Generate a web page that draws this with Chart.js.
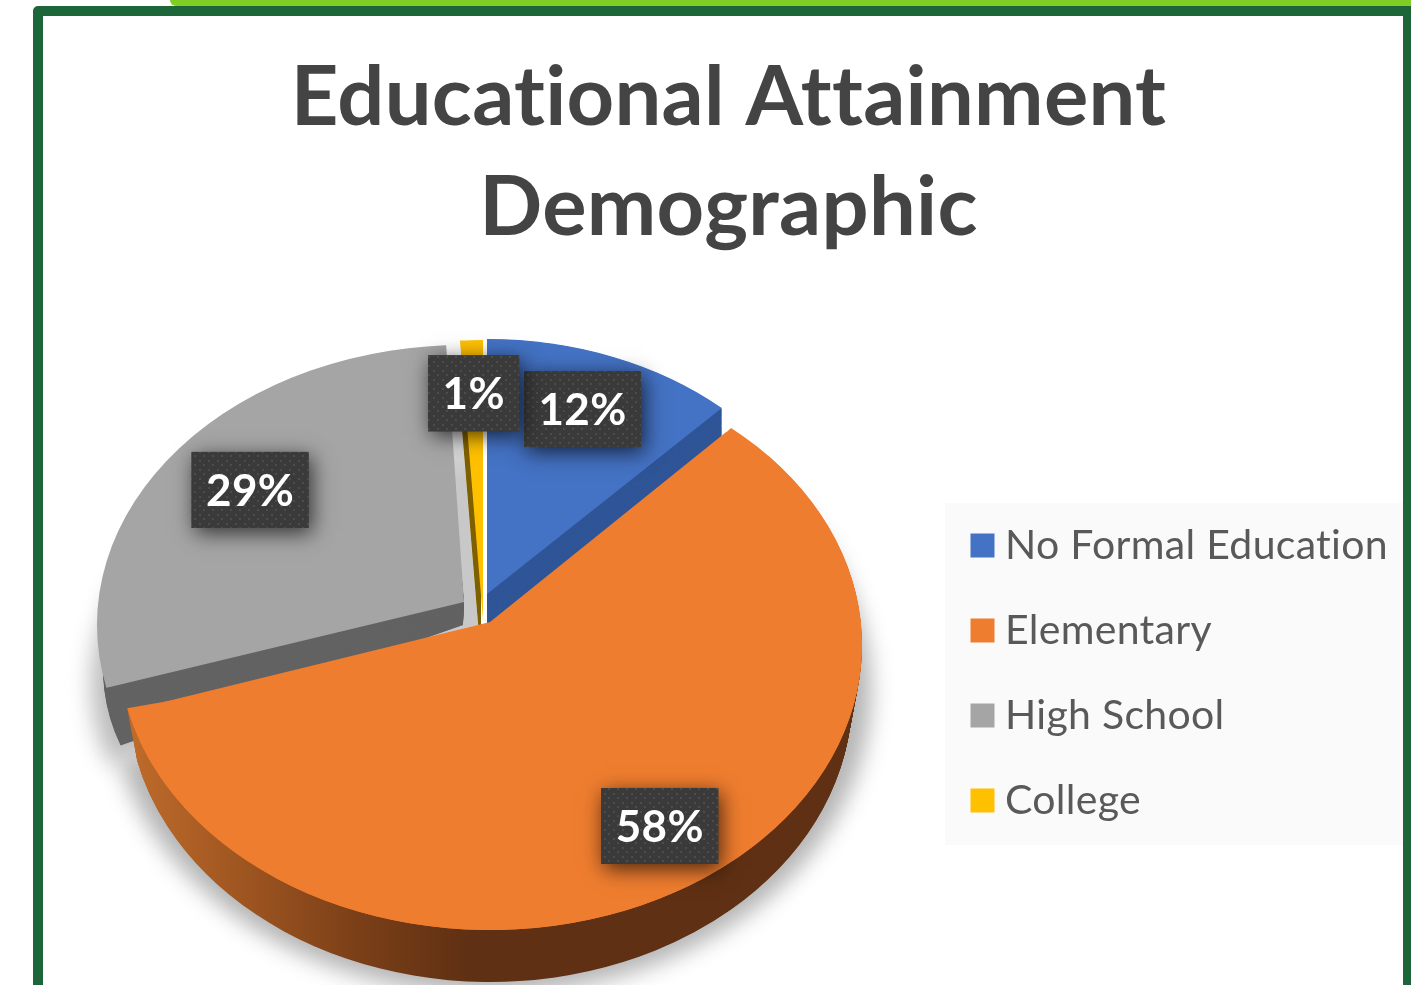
<!DOCTYPE html>
<html>
<head>
<meta charset="utf-8">
<style>
  html, body { margin: 0; background: #fff; overflow: hidden; }
  #stage { position: relative; width: 1411px; height: 985px; overflow: hidden; }
  #accent { position: absolute; left: 170px; top: -8px; width: 1300px; height: 14px; background: #7fcd25; border-radius: 6px; }
  #frame { position: absolute; left: 33px; top: 6px; width: 1400px; height: 1040px; box-sizing: border-box;
           border: 10.5px solid #1c6639; border-radius: 5px; background: #fff; }
  #frame-r { position: absolute; left: 1403px; top: 6px; width: 8px; height: 979px; background: #1c6639; }
  canvas { position: absolute; left: 0; top: 0; }
</style>
</head>
<body>
<div id="stage">
  <div id="accent"></div>
  <div id="frame"></div>
  <div id="frame-r"></div>
  <canvas id="chart" width="1411" height="985"></canvas>
</div>
<script src="https://cdn.jsdelivr.net/npm/chart.js@4/dist/chart.umd.js"></script>
<script>
const titleLines = ['Educational Attainment', 'Demographic'];
const categories = ['No Formal Education', 'Elementary', 'High School', 'College'];
const shares = [12, 58, 29, 1];
const sliceColors = ['#4472c4', '#ef7d2f', '#a5a5a5', '#ffc000'];
const wallColors = ['#2f5597', '#5f3013', '#636363', '#7f6000'];

// Tilted-pie projection: where each slice's top face and bottom face land.
const deg = Math.PI / 180;
const blueTop = { cx: 487, cy: 594, rx: 343, ry: 255 };
const blueBase = { cx: 487, cy: 630, rx: 343, ry: 255 };
const orangeTop = { cx: 490, cy: 645, rx: 372, ry: 285, rot: 5.2 * deg };
const orangeTopLead = { cx: 490, cy: 645, rx: 372, ry: 285, rot: -2.8 * deg };
const orangeApex = { cx: 490, cy: 622, rx: 345, ry: 260.7 };
const orangeBase = { cx: 490, cy: 697, rx: 362, ry: 285, rot: 5.2 * deg };
const orangeGlow = { cx: 490, cy: 690, rx: 381, ry: 304, rot: 5.2 * deg };
const greyLabelFace = { cx: 464, cy: 602, rx: 367, ry: 257 };
const greyTop = { cx: 464, cy: 625, rx: 367, ry: 280, rot: 5 * deg };
const greyWallStart = { cx: 464, cy: 602, rx: 358, ry: 245 };
const greyBase = { cx: 463, cy: 625, rx: 360, ry: 257, shear: -0.12 };
const greyGlow = { cx: 463, cy: 640, rx: 372, ry: 262, shear: -0.12 };
const greyEdge = { cx: 478, cy: 625, rx: 367, ry: 280 };
const collegeTop = { cx: 483, cy: 620, rx: 367, ry: 280 };
const collegeEdge = { cx: 481, cy: 660, rx: 367, ry: 280 };

// Outline that trims the grey top face along its two straight edges.
const greyTrim = [[464, 602], [443, 300], [60, 300], [60, 699]];

// Data label placement: polar position inside each slice's top face.
const labelFaces = [blueTop, orangeTop, greyLabelFace, collegeTop];
const labelRadius = [0.777, 0.782, 0.728, 0.81];
const labelTurn = [-0.6, -3.3, 2.6, 0];
const labelBoxWidths = [117, 117, 117, 91];

function place(ctx, arc, f) {
  const k = arc.outerRadius;
  ctx.translate(f.cx, f.cy);
  if (f.shear) ctx.transform(1, f.shear, 0, 1, 0, 0);
  ctx.scale(f.rx / k, f.ry / k);
  if (f.rot) ctx.rotate(f.rot);
  ctx.translate(-arc.x, -arc.y);
}

function paint(ctx, arc, face, fill) {
  ctx.save();
  place(ctx, arc, face);
  const keep = arc.options;
  const color = typeof fill === 'function' ? fill(ctx) : fill;
  arc.options = Object.create(keep, { backgroundColor: { value: color } });
  arc.draw(ctx);
  arc.options = keep;
  ctx.restore();
}

function mix(a, b, t) {
  const out = {};
  for (const key of ['cx', 'cy', 'rx', 'ry', 'rot', 'shear']) {
    out[key] = (a[key] || 0) + ((b[key] || 0) - (a[key] || 0)) * t;
  }
  return out;
}

function extrude(ctx, arc, from, to, fill) {
  const steps = 70;
  for (let i = steps; i >= 1; i--) paint(ctx, arc, mix(from, to, i / steps), fill);
}

// Horizontal shading of the rim, defined in page space and mapped back
// through whatever transform the slice is being drawn with.
function rimShade(ctx) {
  const inv = ctx.getTransform().inverse();
  const a = inv.transformPoint({ x: 135, y: 800 });
  const b = inv.transformPoint({ x: 860, y: 800 });
  const g = ctx.createLinearGradient(a.x, a.y, b.x, b.y);
  g.addColorStop(0, '#bd6a2a');
  g.addColorStop(0.16, '#9c5420');
  g.addColorStop(0.3, '#7c4018');
  g.addColorStop(0.46, '#5f3013');
  g.addColorStop(1, '#5f3013');
  return g;
}

function edgeShade(ctx) {
  const inv = ctx.getTransform().inverse();
  const a = inv.transformPoint({ x: 460, y: 350 });
  const b = inv.transformPoint({ x: 460, y: 480 });
  const g = ctx.createLinearGradient(a.x, a.y, b.x, b.y);
  g.addColorStop(0, '#ffffff');
  g.addColorStop(1, '#c8c8c8');
  return g;
}

function dotTile(ctx) {
  const tile = document.createElement('canvas');
  tile.width = 9; tile.height = 9;
  const t = tile.getContext('2d');
  t.fillStyle = '#3a3a3a';
  t.fillRect(0, 0, 9, 9);
  t.fillStyle = '#4c4c4c';
  t.fillRect(1, 1, 2, 2);
  t.fillRect(5, 5, 2, 2);
  return ctx.createPattern(tile, 'repeat');
}

function drawLabels(ctx, arcs) {
  const pattern = dotTile(ctx);
  arcs.forEach((arc, i) => {
    const f = labelFaces[i];
    const mid = (arc.startAngle + arc.endAngle) / 2 + labelTurn[i] * deg;
    const x = f.cx + Math.cos(mid) * labelRadius[i] * f.rx;
    const y = f.cy + Math.sin(mid) * labelRadius[i] * f.ry;
    const w = labelBoxWidths[i], h = 76;
    ctx.save();
    ctx.shadowColor = 'rgba(0,0,0,0.7)';
    ctx.shadowBlur = 20;
    ctx.shadowOffsetX = 3;
    ctx.shadowOffsetY = 5;
    ctx.fillStyle = '#3a3a3a';
    ctx.fillRect(x - w / 2, y - h / 2, w, h);
    ctx.restore();
    ctx.save();
    ctx.fillStyle = pattern;
    ctx.fillRect(x - w / 2, y - h / 2, w, h);
    ctx.fillStyle = '#ffffff';
    ctx.font = 'bold 44px Lato';
    ctx.textAlign = 'center';
    ctx.textBaseline = 'middle';
    ctx.fillText(shares[i] + '%', x, y + 2);
    ctx.restore();
  });
}

const tiltedPie = {
  id: 'tiltedPie',
  afterLayout(chart) {
    // Legend panel sits to the right of the pie, vertically beside it.
    const legend = chart.legend;
    const pad = legend.options.labels.padding;
    legend.left = 980.5 - pad;
    legend.right = 1400;
    legend.top = 525 - pad;
    legend.bottom = 900;
  },
  beforeDraw(chart) {
    const ctx = chart.ctx;
    // A hair of tracking keeps the "ti" and "tt" pairs as separate glyphs.
    ctx.letterSpacing = '0.3px';
    ctx.save();
    ctx.fillStyle = '#fafafa';
    ctx.fillRect(945, 503, 458, 342);
    ctx.restore();
  },
  beforeDatasetsDraw(chart) {
    const ctx = chart.ctx;
    const [blue, orange, grey, college] = chart.getDatasetMeta(0).data;

    // Soft cast shadow around the base of the pie.
    ctx.save();
    ctx.filter = 'blur(11px)';
    paint(ctx, grey, greyGlow, '#bcbcbc');
    paint(ctx, orange, orangeGlow, '#b4b4b4');
    ctx.restore();

    // Back slices first, then the large front slice on top of them.
    paint(ctx, grey, greyEdge, edgeShade);
    extrude(ctx, grey, greyWallStart, greyBase, wallColors[2]);
    ctx.save();
    ctx.beginPath();
    greyTrim.forEach(([x, y], i) => (i ? ctx.lineTo(x, y) : ctx.moveTo(x, y)));
    ctx.closePath();
    ctx.clip();
    paint(ctx, grey, greyTop, sliceColors[2]);
    ctx.restore();

    paint(ctx, college, collegeEdge, wallColors[3]);
    paint(ctx, college, collegeTop, sliceColors[3]);

    extrude(ctx, blue, blueTop, blueBase, wallColors[0]);
    paint(ctx, blue, blueTop, sliceColors[0]);

    extrude(ctx, orange, orangeTop, orangeBase, rimShade);
    paint(ctx, orange, orangeTop, sliceColors[1]);
    paint(ctx, orange, orangeTopLead, sliceColors[1]);
    paint(ctx, orange, orangeApex, sliceColors[1]);

    drawLabels(ctx, [blue, orange, grey, college]);
    return false;
  }
};

new Chart(document.getElementById('chart'), {
  type: 'pie',
  plugins: [tiltedPie],
  data: {
    labels: categories,
    datasets: [{ data: shares, backgroundColor: sliceColors, borderWidth: 0 }]
  },
  options: {
    responsive: false,
    animation: false,
    layout: { padding: { left: 46 } },
    plugins: {
      tooltip: { enabled: false },
      title: {
        display: true,
        text: titleLines,
        color: '#444444',
        font: { family: 'Lato', size: 83, weight: 'bold', lineHeight: 1.325 },
        padding: { top: 43, bottom: 10 }
      },
      legend: {
        position: 'right',
        align: 'start',
        labels: {
          color: '#595959',
          font: { family: 'Lato', size: 41 },
          boxWidth: 4,
          boxHeight: 4,
          padding: 44,
          generateLabels: () => categories.map((text, i) => ({
            text,
            fillStyle: sliceColors[i],
            strokeStyle: sliceColors[i],
            lineWidth: 20,
            fontColor: '#595959',
            hidden: false,
            index: i
          }))
        }
      }
    }
  }
});
</script>
</body>
</html>
